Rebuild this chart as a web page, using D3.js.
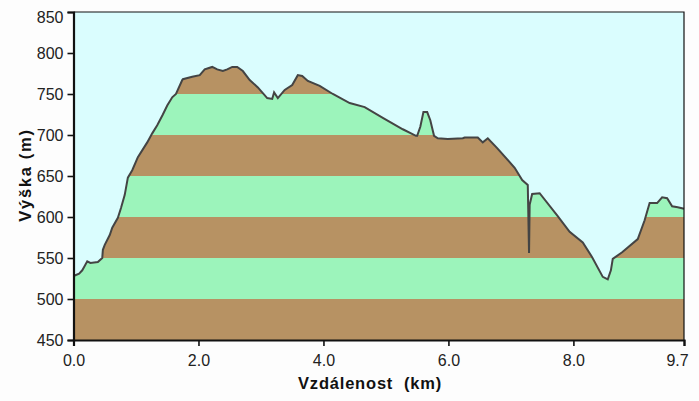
<!DOCTYPE html>
<html>
<head>
<meta charset="utf-8">
<script src="https://cdn.jsdelivr.net/npm/d3@7"></script>
<style>
  html, body { margin: 0; padding: 0; background: #fdfdfd; }
  svg { display: block; }
  text { font-family: "Liberation Sans", Arial, sans-serif; fill: #222; }
  .tick text { font-size: 16px; }
  .title { font-size: 16.5px; font-weight: bold; letter-spacing: 0.8px; fill: #111; }
</style>
</head>
<body>
<svg id="chart"></svg>
<script>
"use strict";

// distance (km), altitude (m)
const profile = [
  [0.00, 528], [0.09, 531], [0.14, 535], [0.17, 539], [0.22, 546], [0.27, 544], [0.39, 545],
  [0.46, 550], [0.47, 560], [0.50, 566], [0.58, 578], [0.62, 587], [0.71, 599], [0.76, 611],
  [0.82, 627], [0.87, 648], [0.94, 657], [1.03, 673], [1.18, 691], [1.26, 702], [1.34, 712],
  [1.43, 725], [1.50, 736], [1.58, 746], [1.64, 750], [1.74, 767], [1.75, 768],
  [1.90, 771], [2.02, 773], [2.10, 780], [2.22, 783], [2.30, 780], [2.39, 778], [2.46, 780],
  [2.54, 783], [2.62, 783], [2.71, 778], [2.82, 767], [2.95, 758], [3.10, 745], [3.18, 744],
  [3.21, 752], [3.27, 745], [3.38, 755], [3.50, 761], [3.59, 773], [3.66, 772], [3.75, 766],
  [3.94, 760], [4.15, 750], [4.42, 739], [4.66, 734], [4.95, 721], [5.27, 707], [5.48, 699],
  [5.50, 699], [5.55, 710], [5.60, 728], [5.66, 728], [5.71, 718], [5.77, 699], [5.83, 696],
  [5.99, 695], [6.23, 696], [6.26, 697], [6.47, 697], [6.55, 691], [6.63, 696], [6.78, 684],
  [7.06, 660], [7.18, 645], [7.27, 639], [7.29, 556], [7.30, 615], [7.34, 628], [7.46, 629],
  [7.74, 602], [7.94, 582], [8.15, 569], [8.30, 551], [8.47, 527], [8.55, 524], [8.60, 535],
  [8.63, 549], [8.78, 557], [9.03, 573], [9.14, 596], [9.22, 617], [9.34, 617], [9.42, 624],
  [9.50, 623], [9.58, 613], [9.67, 612], [9.77, 610]
];

// altitude bands under the profile
const bands = [
  {from: 450, to: 500, color: "#b79263"},
  {from: 500, to: 550, color: "#9cf4bb"},
  {from: 550, to: 600, color: "#b79263"},
  {from: 600, to: 650, color: "#9cf4bb"},
  {from: 650, to: 700, color: "#b79263"},
  {from: 700, to: 750, color: "#9cf4bb"},
  {from: 750, to: 800, color: "#b79263"}
];

const width = 699;
const height = 401;
const margin = {top: 12, right: 15, bottom: 61, left: 73.5};
const innerWidth = width - margin.left - margin.right;
const innerHeight = height - margin.top - margin.bottom;

const svg = d3.select("#chart")
    .attr("width", width)
    .attr("height", height);

const x = d3.scaleLinear().domain([0, 9.77]).range([0, innerWidth]);
const y = d3.scaleLinear().domain([450, 850]).range([innerHeight, 0]);

const g = svg.append("g")
    .attr("transform", `translate(${margin.left},${margin.top})`);

// sky
g.append("rect")
    .attr("width", innerWidth)
    .attr("height", innerHeight)
    .attr("fill", "#dafdfe");

// clip the bands to the ground
const area = d3.area()
    .x(d => x(d[0]))
    .y0(innerHeight)
    .y1(d => y(d[1]));

g.append("clipPath")
    .attr("id", "ground")
    .append("path")
    .attr("d", area(profile));

g.append("g")
    .attr("clip-path", "url(#ground)")
    .selectAll("rect").data(bands)
    .enter()
    .append("rect")
    .attr("x", 0)
    .attr("width", innerWidth)
    .attr("y", d => y(d.to))
    .attr("height", d => y(d.from) - y(d.to))
    .attr("fill", d => d.color);

g.append("path")
    .attr("d", d3.line().x(d => x(d[0])).y(d => y(d[1]))(profile))
    .attr("fill", "none")
    .attr("stroke", "#444")
    .attr("stroke-width", 2);

// frame
g.append("path")
    .attr("d", d3.line()([[0, 0], [innerWidth, 0], [innerWidth, innerHeight]]))
    .attr("fill", "none")
    .attr("stroke", "#111")
    .attr("stroke-width", 1.2);

const xAxis = d3.axisBottom(x)
    .tickValues([0, 2, 4, 6, 8, 9.77])
    .tickFormat(d => d == 9.77 ? "9.7" : d.toFixed(1))
    .tickSize(6)
    .tickPadding(9);

const yAxis = d3.axisLeft(y)
    .tickValues(d3.range(450, 851, 50))
    .tickSize(6)
    .tickPadding(4);

const xG = g.append("g")
    .attr("transform", `translate(0,${innerHeight})`)
    .call(xAxis);

const yG = g.append("g").call(yAxis);

xG.selectAll(".domain").attr("stroke", "#111").attr("stroke-width", 2.2);
yG.selectAll(".domain").attr("stroke", "#111").attr("stroke-width", 2.2);
xG.selectAll(".tick line").attr("stroke", "#111").attr("stroke-width", 1.6);
yG.selectAll(".tick line").attr("stroke", "#111").attr("stroke-width", 1.6);
xG.selectAll("text").attr("font-family", null).attr("font-size", null);
yG.selectAll("text").attr("font-family", null).attr("font-size", null);

// the end labels sit inside the frame in the original
yG.selectAll(".tick text").filter(d => d == 850).attr("dy", "0.68em");
xG.selectAll(".tick text").filter(d => d == 9.77).attr("dx", -7);

// axis titles
svg.append("text")
    .attr("class", "title")
    .attr("x", 370)
    .attr("y", 389)
    .attr("text-anchor", "middle")
    .attr("xml:space", "preserve")
    .text("Vzdálenost  (km)");

svg.append("text")
    .attr("class", "title")
    .attr("transform", "translate(30.5,175) rotate(-90)")
    .attr("text-anchor", "middle")
    .style("letter-spacing", "1.7px")
    .text("Výška (m)");
</script>
</body>
</html>
